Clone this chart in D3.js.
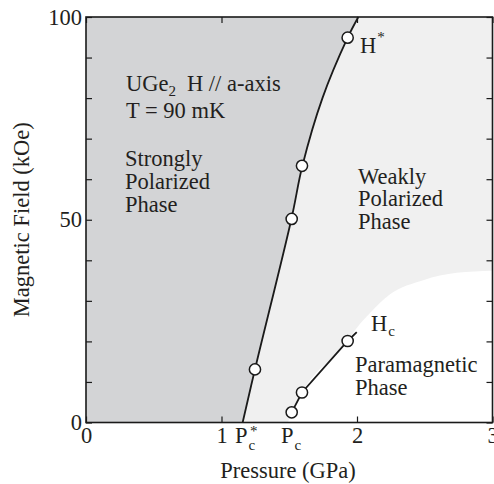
<!DOCTYPE html>
<html>
<head>
<meta charset="utf-8">
<script src="https://cdn.jsdelivr.net/npm/d3@7"></script>
<style>
  html, body { margin: 0; padding: 0; background: #fff; }
  svg { display: block; font-family: "Liberation Serif", "Times New Roman", serif; }
  text { fill: #231f20; }
</style>
</head>
<body>
<svg id="chart" width="494" height="484"></svg>
<script>
// ---- data (Pressure in GPa, Magnetic Field in kOe) ----
// H* phase boundary
const hStarPressure = [1.156, 1.247, 1.516, 1.597, 1.745, 1.931, 2.01];
const hStarField    = [0,     13.1,  50.2,  63.3,  80.0,  94.9,  100];
// measured H* points
const hStarPointsP  = [1.247, 1.518, 1.594, 1.931];
const hStarPointsH  = [13.1,  50.2,  63.3,  94.9];
// Hc line and points
const hcLineP       = [1.518, 1.594, 1.931, 1.998];
const hcLineH       = [2.5,   7.4,   20.1,  22.3];
const hcPointsP     = [1.518, 1.594, 1.931];
const hcPointsH     = [2.5,   7.4,   20.1];
// edge of the paramagnetic (white) region
const paraBoundP    = [1.49, 1.518, 1.594, 1.931, 1.998, 2.096, 2.244, 2.489, 2.736, 3.0];
const paraBoundH    = [0,    2.5,   7.4,   20.1,  23.3,  27.0,  31.6,  35.1,  36.9,  37.4];
const xTickValues   = [0, 1, 2, 3];
const yTickValues   = [0, 10, 20, 30, 40, 50, 60, 70, 80, 90, 100];
const yTickLabels   = [0, 50, 100];

const svg = d3.select("#chart");
const x = d3.scaleLinear().domain([0, 3]).range([86, 492.5]);
const y = d3.scaleLinear().domain([0, 100]).range([422.5, 17]);
const FS = 22.5;

const zip = (a, b) => a.map((v, i) => [v, b[i]]);

// background light gray (weakly polarized)
svg.append("rect")
  .attr("x", x(0)).attr("y", y(100))
  .attr("width", x(3) - x(0)).attr("height", y(0) - y(100))
  .attr("fill", "#f0f0f0");

// strongly polarized region (left of H* curve)
const curveLine = d3.line().x(d => x(d[0])).y(d => y(d[1])).curve(d3.curveCatmullRom.alpha(0.5));
const hStarData = zip(hStarPressure, hStarField);
const curvePath = curveLine(hStarData);
svg.append("path")
  .attr("d", curvePath + `L${x(0)},${y(100)}L${x(0)},${y(0)}Z`)
  .attr("fill", "#d3d4d6");

// paramagnetic region (white)
const paraLine = d3.line().x(d => x(d[0])).y(d => y(d[1])).curve(d3.curveMonotoneX);
const paraData = zip(paraBoundP, paraBoundH);
svg.append("path")
  .attr("d", paraLine(paraData) + `L${x(3)},${y(0)}Z`)
  .attr("fill", "#ffffff");

// H* curve
svg.append("path")
  .attr("d", curvePath)
  .attr("fill", "none").attr("stroke", "#1a1a1a").attr("stroke-width", 1.8);

// Hc line
svg.append("path")
  .attr("d", d3.line().x(d => x(d[0])).y(d => y(d[1]))(zip(hcLineP, hcLineH)))
  .attr("fill", "none").attr("stroke", "#1a1a1a").attr("stroke-width", 1.8);

// points
const pts = zip(hStarPointsP, hStarPointsH).concat(zip(hcPointsP, hcPointsH));
svg.selectAll("circle.pt").data(pts).enter().append("circle")
  .attr("class", "pt")
  .attr("cx", d => x(d[0])).attr("cy", d => y(d[1])).attr("r", 5.6)
  .attr("fill", "#fff").attr("stroke", "#1a1a1a").attr("stroke-width", 1.5);

// axes
function styleAxis(g) {
  g.select(".domain").remove();
  g.selectAll(".tick line").attr("stroke", "#1a1a1a").attr("stroke-width", 1.2);
  g.selectAll(".tick text").attr("font-size", FS).attr("font-family", "Liberation Serif").attr("fill", "#231f20");
}
svg.append("g").attr("transform", `translate(0,${y(0)})`)
  .call(d3.axisBottom(x).tickValues(xTickValues).tickSizeInner(-6).tickSizeOuter(0).tickPadding(5).tickFormat(d3.format("d")))
  .call(styleAxis);
svg.append("g").attr("transform", `translate(0,${y(100)})`)
  .call(d3.axisTop(x).tickValues(xTickValues).tickSizeInner(-6).tickSizeOuter(0).tickFormat(""))
  .call(styleAxis);
svg.append("g").attr("transform", `translate(${x(0)},0)`)
  .call(d3.axisLeft(y).tickValues(yTickValues).tickSizeInner(-6).tickSizeOuter(0).tickPadding(4)
    .tickFormat(d => yTickLabels.includes(d) ? d : ""))
  .call(styleAxis);
svg.append("g").attr("transform", `translate(${x(3)},0)`)
  .call(d3.axisRight(y).tickValues(yTickValues).tickSizeInner(-6).tickSizeOuter(0).tickFormat(""))
  .call(styleAxis);

// frame
svg.append("rect")
  .attr("x", x(0)).attr("y", y(100))
  .attr("width", x(3) - x(0)).attr("height", y(0) - y(100))
  .attr("fill", "none").attr("stroke", "#1a1a1a").attr("stroke-width", 1.6);

// axis titles
svg.append("text").attr("x", 288).attr("y", 478).attr("text-anchor", "middle")
  .attr("font-size", FS).text("Pressure (GPa)");
svg.append("text").attr("transform", `translate(29,${(y(0) + y(100)) / 2}) rotate(-90)`)
  .attr("text-anchor", "middle").attr("font-size", FS).text("Magnetic Field (kOe)");

// annotations
function label(xp, yp, parts) {
  const t = svg.append("text").attr("x", xp).attr("y", yp).attr("font-size", FS);
  parts.forEach(p => {
    const s = t.append("tspan").text(p.t);
    if (p.fs) s.attr("font-size", p.fs);
    if (p.dy) s.attr("dy", p.dy);
    if (p.dx) s.attr("dx", p.dx);
  });
  return t;
}
label(126, 91, [{t: "UGe"}, {t: "2", fs: 15, dy: 5}, {t: "H // a-axis", dy: -5, dx: 11}]);
label(126, 118, [{t: "T = 90 mK"}]);
label(125, 166, [{t: "Strongly"}]);
label(125, 189, [{t: "Polarized"}]);
label(125, 212, [{t: "Phase"}]);
label(358, 184, [{t: "Weakly"}]);
label(358, 206, [{t: "Polarized"}]);
label(358, 229, [{t: "Phase"}]);
label(355, 372, [{t: "Paramagnetic"}]);
label(355, 395, [{t: "Phase"}]);
label(360, 53, [{t: "H"}, {t: "*", fs: 15, dy: -11, dx: 1}]);
label(371, 331, [{t: "H"}, {t: "c", fs: 15, dy: 5, dx: 1}]);
// P*c and Pc under the axis
label(235, 443, [{t: "P"}, {t: "c", fs: 15, dy: 7, dx: 1}]);
label(250, 436, [{t: "*", fs: 15}]);
label(281, 443, [{t: "P"}, {t: "c", fs: 15, dy: 7, dx: 1}]);
</script>
</body>
</html>
